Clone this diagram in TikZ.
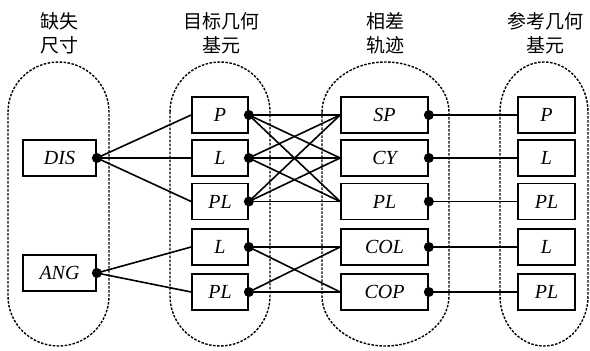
\documentclass[tikz,border=0pt]{standalone}
\usepackage{fontspec}
\setmainfont{Liberation Serif}
\newfontfamily\cjk{Noto Sans CJK SC}
\begin{document}
\begin{tikzpicture}[x=1pt,y=1pt,
  box/.style={draw, line width=1.7pt, minimum height=36pt, inner sep=0pt,
    font=\fontsize{20}{24}\selectfont\itshape},
  wire/.style={line width=1.6pt},
  dot/.style={circle, fill, inner sep=0pt, minimum size=10pt},
  capsule/.style={line width=1.4pt, dash pattern=on 2.5pt off 1.5pt},
  title/.style={align=center, font=\cjk\fontsize{19}{24}\selectfont}]
\useasboundingbox (0,0) rectangle (590,351);

% dashed group outlines
\foreach \l/\r in {8/109, 170/270, 322/449, 500/588} {
  \pgfmathsetmacro\rx{(\r-\l)/2}
  \draw[capsule] (\l,239) arc[start angle=180, end angle=0, x radius=\rx, y radius=50]
    -- (\r,55) arc[start angle=0, end angle=-180, x radius=\rx, y radius=50] -- cycle;
}

% column titles
\node[title] (h1) at (59,318) {缺失\\尺寸};
\node[title] (h2) at (221,318) {目标几何\\基元};
\node[title] (h3) at (385.5,318) {相差\\轨迹};
\node[title] (h4) at (545,318) {参考几何\\基元};

% missing dimensions
\node[box, minimum width=73pt] (dis) at (59.5,193) {DIS};
\node[box, minimum width=73pt] (ang) at (59.5,78) {ANG};

% target elements
\node[box, minimum width=56pt] (t1) at (220,236) {P};
\node[box, minimum width=56pt] (t2) at (220,193) {L};
\node[box, minimum width=56pt] (t3) at (220,149.5) {PL};
\node[box, minimum width=56pt] (t4) at (220,104) {L};
\node[box, minimum width=56pt] (t5) at (220,59) {PL};

% trajectories
\node[box, minimum width=87pt] (s1) at (384.5,236) {SP};
\node[box, minimum width=87pt] (s2) at (384.5,193) {CY};
\node[box, minimum width=87pt] (s3) at (384.5,149.5) {PL};
\node[box, minimum width=87pt] (s4) at (384.5,104) {COL};
\node[box, minimum width=87pt] (s5) at (384.5,59) {COP};

% reference elements
\node[box, minimum width=57pt] (r1) at (546.5,236) {P};
\node[box, minimum width=57pt] (r2) at (546.5,193) {L};
\node[box, minimum width=57pt] (r3) at (546.5,149.5) {PL};
\node[box, minimum width=57pt] (r4) at (546.5,104) {L};
\node[box, minimum width=57pt] (r5) at (546.5,59) {PL};

% connectors
\foreach \t in {t1,t2,t3} \draw[wire] (dis.east) -- (\t.west);
\foreach \t in {t4,t5} \draw[wire] (ang.east) -- (\t.west);
\foreach \t in {t1,t2,t3} \foreach \s in {s1,s2,s3} \draw[wire] (\t.east) -- (\s.west);
\foreach \t in {t4,t5} \foreach \s in {s4,s5} \draw[wire] (\t.east) -- (\s.west);
\foreach \i in {1,...,5} \draw[wire] (s\i.east) -- (r\i.west);

% junction dots
\foreach \n in {dis,ang,t1,t2,t3,t4,t5,s1,s2,s3,s4,s5}
  \node[dot] at (\n.east) {};
\end{tikzpicture}
\end{document}
